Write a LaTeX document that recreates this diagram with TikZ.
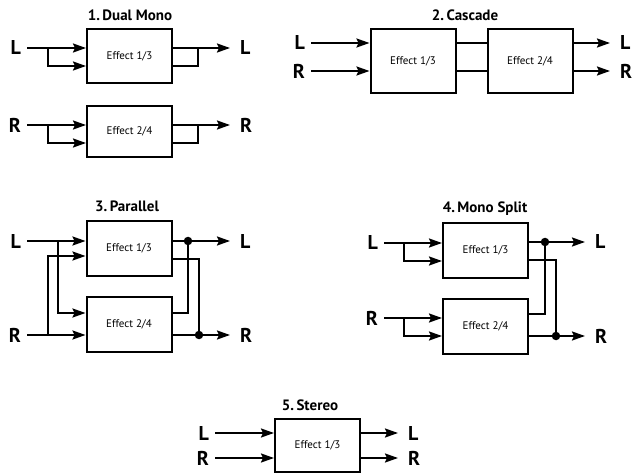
\documentclass[tikz,border=0pt]{standalone}
\usepackage{fontspec}
\setmainfont{PT Sans}
\usepackage{tikz}
\usetikzlibrary{arrows.meta, positioning, calc}
\tikzset{
  fx/.style={rectangle, draw, line width=2pt, minimum width=85pt, align=center, font=\fontsize{11}{13}\selectfont},
  ttl/.style={font=\bfseries\fontsize{15}{17}\selectfont},
  sigin/.style={anchor=east, inner xsep=6pt, inner ysep=1pt, font=\bfseries\fontsize{20}{21}\selectfont},
  sigout/.style={anchor=west, inner xsep=10pt, inner ysep=1pt, font=\bfseries\fontsize{20}{21}\selectfont},
  arr/.style={-{Stealth[length=13pt, width=9pt, inset=2pt]}, line width=2pt},
  wire/.style={line width=2pt},
  jdot/.style={circle, fill, inner sep=0pt, minimum size=8.5pt},
}

\begin{document}
\begin{tikzpicture}[x=1pt, y=-1pt]
  \useasboundingbox (0,0) rectangle (632,473);

  % 1. Dual Mono
  \node[ttl] (t1) at (130,15) {1.\,Dual Mono};
  \node[fx, minimum height=54pt] (d1a) at (129.5,56) {Effect 1/3};
  \node[fx, minimum height=51pt] (d1b) at (129.5,131.5) {Effect 2/4};
  \node[sigin] (d1l) at (27,48) {L};
  \node[sigout] (d1lo) at (230,48) {L};
  \node[sigin] (d1r) at (27,125) {R};
  \node[sigout] (d1ro) at (230,125) {R};
  \coordinate (d1lb) at (48,48);
  \coordinate (d1rb) at (48,125);
  \draw[arr] (d1l) -- (d1l -| d1a.west);
  \draw[arr] (d1lb) |- (d1a.west |- 0,66);
  \draw[arr] (d1a.east |- d1lo) -- (d1lo);
  \draw[wire] (d1a.east |- 0,66) -| (198,48);
  \draw[arr] (d1r) -- (d1r -| d1b.west);
  \draw[arr] (d1rb) |- (d1b.west |- 0,143);
  \draw[arr] (d1b.east |- d1ro) -- (d1ro);
  \draw[wire] (d1b.east |- 0,143) -| (198,125);

  % 2. Cascade
  \node[ttl] (t2) at (465,15) {2.\,Cascade};
  \node[fx, minimum height=64pt] (d2a) at (413,61) {Effect 1/3};
  \node[fx, minimum height=64pt] (d2b) at (530,61) {Effect 2/4};
  \node[sigin] (d2l) at (311,43) {L};
  \node[sigin] (d2r) at (311,71) {R};
  \node[sigout] (d2lo) at (610,43) {L};
  \node[sigout] (d2ro) at (610,71) {R};
  \draw[arr] (d2l) -- (d2l -| d2a.west);
  \draw[arr] (d2r) -- (d2r -| d2a.west);
  \draw[wire] (d2a.east |- d2l) -- (d2b.west |- d2l);
  \draw[wire] (d2a.east |- d2r) -- (d2b.west |- d2r);
  \draw[arr] (d2b.east |- d2lo) -- (d2lo);
  \draw[arr] (d2b.east |- d2ro) -- (d2ro);

  % 3. Parallel
  \node[ttl] (t3) at (127,206) {3.\,Parallel};
  \node[fx, minimum height=55pt] (d3a) at (129,248.5) {Effect 1/3};
  \node[fx, minimum height=55pt] (d3b) at (129,324.5) {Effect 2/4};
  \node[sigin] (d3l) at (27,241) {L};
  \node[sigin] (d3r) at (27,335) {R};
  \node[sigout] (d3lo) at (230,241) {L};
  \node[sigout] (d3ro) at (230,335) {R};
  \coordinate (d3lb) at (58,241);
  \coordinate (d3rb) at (48,335);
  \node[jdot] (d3lj) at (188,241) {};
  \node[jdot] (d3rj) at (199,335) {};
  \draw[arr] (d3l) -- (d3l -| d3a.west);
  \draw[arr] (d3lb) |- (d3b.west |- 0,313);
  \draw[arr] (d3r) -- (d3r -| d3b.west);
  \draw[arr] (d3rb) |- (d3a.west |- 0,256);
  \draw[wire] (d3a.east |- d3lj) -- (d3lj);
  \draw[arr] (d3lj) -- (d3lo);
  \draw[wire] (d3a.east |- 0,259) -| (d3rj);
  \draw[wire] (d3b.east |- 0,313) -| (d3lj);
  \draw[wire] (d3b.east |- d3rj) -- (d3rj);
  \draw[arr] (d3rj) -- (d3ro);

  % 4. Mono Split
  \node[ttl] (t4) at (485,209) {4.\,Mono Split};
  \node[fx, minimum height=55pt] (d4a) at (485.5,250.5) {Effect 1/3};
  \node[fx, minimum height=55pt] (d4b) at (485.5,326.5) {Effect 2/4};
  \node[sigin] (d4l) at (384,243) {L};
  \node[sigin] (d4r) at (384,318) {R};
  \node[sigout] (d4lo) at (585,242) {L};
  \node[sigout] (d4ro) at (585,336) {R};
  \coordinate (d4lb) at (404,243);
  \coordinate (d4rb) at (404,318);
  \node[jdot] (d4lj) at (545,242) {};
  \node[jdot] (d4rj) at (556,336) {};
  \draw[arr] (d4l) -- (d4l -| d4a.west);
  \draw[arr] (d4lb) |- (d4a.west |- 0,261);
  \draw[arr] (d4r) -- (d4r -| d4b.west);
  \draw[arr] (d4rb) |- (d4b.west |- 0,336);
  \draw[wire] (d4a.east |- d4lj) -- (d4lj);
  \draw[arr] (d4lj) -- (d4lo);
  \draw[wire] (d4a.east |- 0,260) -| (d4rj);
  \draw[wire] (d4b.east |- 0,314) -| (d4lj);
  \draw[wire] (d4b.east |- d4rj) -- (d4rj);
  \draw[arr] (d4rj) -- (d4ro);

  % 5. Stereo
  \node[ttl] (t5) at (310,405) {5.\,Stereo};
  \node[fx, minimum height=53pt] (d5) at (317.5,445.5) {Effect 1/3};
  \node[sigin] (d5l) at (215,433) {L};
  \node[sigin] (d5r) at (215,458) {R};
  \node[sigout] (d5lo) at (398,433) {L};
  \node[sigout] (d5ro) at (398,458) {R};
  \draw[arr] (d5l) -- (d5l -| d5.west);
  \draw[arr] (d5r) -- (d5r -| d5.west);
  \draw[arr] (d5.east |- d5lo) -- (d5lo);
  \draw[arr] (d5.east |- d5ro) -- (d5ro);
\end{tikzpicture}
\end{document}
